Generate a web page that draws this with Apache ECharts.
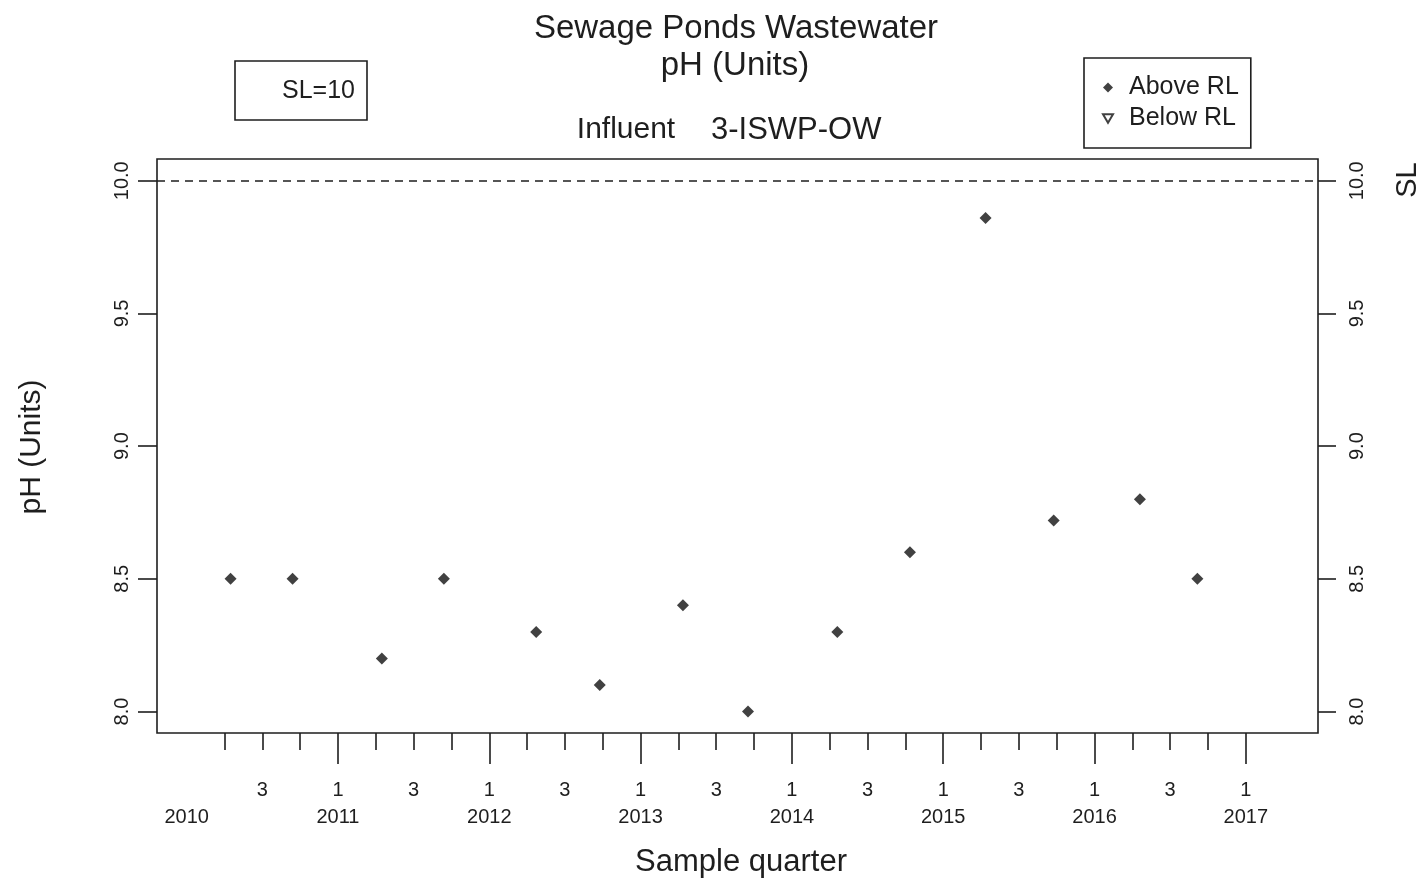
<!DOCTYPE html>
<html>
<head>
<meta charset="utf-8">
<title>Sewage Ponds Wastewater pH</title>
<script src="https://cdn.jsdelivr.net/npm/echarts@6/dist/echarts.min.js"></script>
<style>
  html, body { margin: 0; padding: 0; background: #ffffff; }
  #chart { width: 1423px; height: 880px; }
</style>
</head>
<body>
<div id="chart"></div>
<script>
// Sample times as decimal years, pH readings (Units)
const sampleTimes = [2010.29, 2010.70, 2011.29, 2011.70, 2012.31, 2012.73, 2013.28,
                     2013.71, 2014.30, 2014.78, 2015.28, 2015.73, 2016.30, 2016.68];
const phAbove = [8.5, 8.5, 8.2, 8.5, 8.3, 8.1, 8.4, 8.0, 8.3, 8.6, 9.86, 8.72, 8.8, 8.5];
const belowRL = [];            // no readings below the reporting limit
const SL = 10;                 // standard limit
const yTicks = [8.0, 8.5, 9.0, 9.5, 10.0];
const yearLabels = [2010, 2011, 2012, 2013, 2014, 2015, 2016, 2017];
const quarterLabel = { 1: '1', 3: '3' };

const X_MIN = 2009.804, X_MAX = 2017.477;
const Y_MIN = 7.919, Y_MAX = 10.082;
const FONT = "'Liberation Sans', Arial, Helvetica, sans-serif";
const INK = '#1e1e1e';
const LW = 1.6;
const TICK_FONT = 20;

// tick positions: short ticks for quarters 2-4, long ticks at each new year
const shortTicks = [];
const longTicks = [];
const quarterLabelPos = [];
yearLabels.forEach(function (y, i) {
  if (i > 0) { longTicks.push(y); quarterLabelPos.push(y); }
  if (y < 2017) {
    shortTicks.push(y + 0.25, y + 0.5, y + 0.75);
    quarterLabelPos.push(y + 0.5);
  }
});

const aboveData = sampleTimes.map(function (t, i) { return [t, phAbove[i]]; });

const chart = echarts.init(document.getElementById('chart'), null, { renderer: 'canvas' });

const baseX = {
  type: 'value', min: X_MIN, max: X_MAX, position: 'bottom', gridIndex: 0,
  splitLine: { show: false },
  axisLine: { show: false }
};
const baseY = {
  type: 'value', min: Y_MIN, max: Y_MAX, gridIndex: 0,
  splitLine: { show: false },
  axisLine: { show: false },
  axisTick: { show: true, customValues: yTicks, length: 19, lineStyle: { color: INK, width: LW } },
  axisLabel: {
    show: true, customValues: yTicks, rotate: 90, fontSize: TICK_FONT, color: INK, fontFamily: FONT,
    formatter: function (v) { return v.toFixed(1); }
  }
};

chart.setOption({
  animation: false,
  backgroundColor: '#ffffff',
  textStyle: { fontFamily: FONT },
  grid: {
    left: 157, right: 105, top: 159, bottom: 147,
    show: true, borderColor: INK, borderWidth: LW, backgroundColor: 'transparent'
  },
  xAxis: [
    Object.assign({}, baseX, {
      axisTick: { show: true, customValues: shortTicks, length: 17, lineStyle: { color: INK, width: LW } },
      axisLabel: {
        show: true, customValues: quarterLabelPos, margin: 47, fontSize: TICK_FONT, color: INK, fontFamily: FONT,
        formatter: function (v) {
          const q = Math.round((v - Math.floor(v)) * 4) + 1;
          return quarterLabel[q] || '';
        }
      }
    }),
    Object.assign({}, baseX, {
      axisTick: { show: true, customValues: longTicks, length: 31, lineStyle: { color: INK, width: LW } },
      axisLabel: {
        show: true, customValues: yearLabels, margin: 74, fontSize: TICK_FONT, color: INK, fontFamily: FONT,
        formatter: function (v) { return String(Math.round(v)); }
      }
    })
  ],
  yAxis: [
    Object.assign({}, baseY, { position: 'left',
      axisLabel: Object.assign({}, baseY.axisLabel, { margin: 25 }) }),
    Object.assign({}, baseY, { position: 'right',
      axisTick: Object.assign({}, baseY.axisTick, { length: 18 }),
      axisLabel: Object.assign({}, baseY.axisLabel, { margin: 29 }) })
  ],
  legend: {
    orient: 'vertical', left: 1084, top: 58,
    padding: [17, 12, 17, 18], itemGap: 6, itemWidth: 10, itemHeight: 10,
    borderColor: INK, borderWidth: LW, backgroundColor: '#ffffff',
    textStyle: { fontSize: 25, color: INK, fontFamily: FONT, padding: [0, 0, 0, 11] },
    data: [
      { name: 'Above RL', icon: 'diamond' },
      { name: 'Below RL', icon: 'path://M0,0L20,0L10,17Z' }
    ]
  },
  series: [
    {
      name: 'Above RL', type: 'scatter', xAxisIndex: 0, yAxisIndex: 0,
      data: aboveData, symbol: 'diamond', symbolSize: 12,
      itemStyle: { color: '#111111' },
      markLine: {
        silent: true, symbol: ['none', 'none'], label: { show: false },
        lineStyle: { type: [8, 6], color: INK, width: LW },
        data: [{ yAxis: SL }]
      }
    },
    {
      name: 'Below RL', type: 'scatter', xAxisIndex: 0, yAxisIndex: 0,
      data: belowRL, symbol: 'triangle', symbolRotate: 180, symbolSize: 10,
      itemStyle: { color: '#ffffff', borderColor: '#111111', borderWidth: 1.3 }
    }
  ],
  graphic: [
    // standard limit note
    { type: 'rect', shape: { x: 235, y: 61, width: 132, height: 59 },
      style: { fill: '#ffffff', stroke: INK, lineWidth: LW } },
    { type: 'text', x: 355, y: 91,
      style: { text: 'SL=' + SL, fontSize: 25, fontFamily: FONT, fill: INK, align: 'right', verticalAlign: 'middle' } },
    // titles
    { type: 'text', x: 736, y: 29,
      style: { text: 'Sewage Ponds Wastewater', fontSize: 33, fontFamily: FONT, fill: INK, align: 'center', verticalAlign: 'middle' } },
    { type: 'text', x: 735, y: 66,
      style: { text: 'pH (Units)', fontSize: 33, fontFamily: FONT, fill: INK, align: 'center', verticalAlign: 'middle' } },
    { type: 'text', x: 626, y: 130,
      style: { text: 'Influent', fontSize: 30, fontFamily: FONT, fill: INK, align: 'center', verticalAlign: 'middle' } },
    { type: 'text', x: 711, y: 130,
      style: { text: '3-ISWP-OW', fontSize: 31, fontFamily: FONT, fill: INK, align: 'left', verticalAlign: 'middle' } },
    // axis names
    { type: 'text', x: 741, y: 862,
      style: { text: 'Sample quarter', fontSize: 31, fontFamily: FONT, fill: INK, align: 'center', verticalAlign: 'middle' } },
    { type: 'text', x: 32, y: 447, rotation: Math.PI / 2,
      style: { text: 'pH (Units)', fontSize: 30, fontFamily: FONT, fill: INK, align: 'center', verticalAlign: 'middle' } },
    { type: 'text', x: 1408, y: 180, rotation: Math.PI / 2,
      style: { text: 'SL', fontSize: 29, fontFamily: FONT, fill: INK, align: 'center', verticalAlign: 'middle' } }
  ]
});
</script>
</body>
</html>
